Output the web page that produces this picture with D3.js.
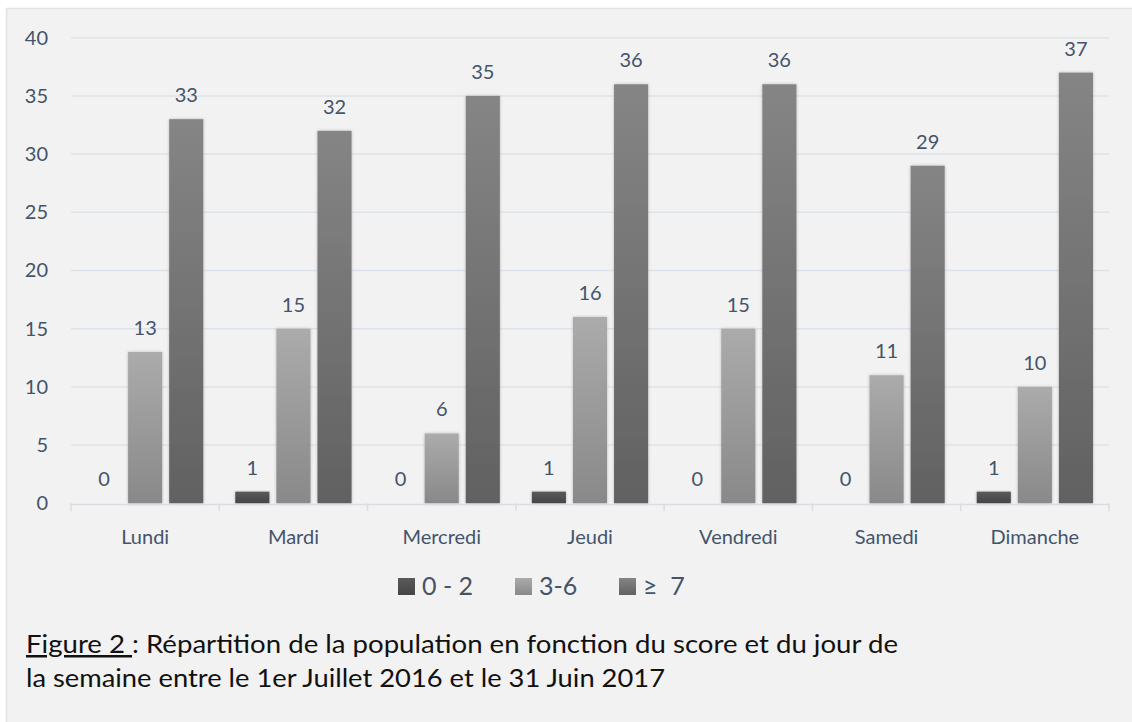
<!DOCTYPE html>
<html>
<head>
<meta charset="utf-8">
<script src="https://cdn.jsdelivr.net/npm/d3@7"></script>
<style>
  body { margin: 0; background: #ffffff; }
  svg text { font-family: Lato, "Open Sans", sans-serif; }
</style>
</head>
<body>
<svg id="chart" width="1132" height="722"></svg>
<script>
// Data
const days = ["Lundi", "Mardi", "Mercredi", "Jeudi", "Vendredi", "Samedi", "Dimanche"];
const seriesNames = ["0 - 2", "3-6", "\u2265  7"];
const score02 = [0, 1, 0, 1, 0, 0, 1];
const score36 = [13, 15, 6, 16, 15, 11, 10];
const score7 = [33, 32, 35, 36, 36, 29, 37];
const yTicks = [0, 5, 10, 15, 20, 25, 30, 35, 40];

const allSeries = [score02, score36, score7];
const gradStops = [["#5a5a5a", "#454545"], ["#ababab", "#898989"], ["#858585", "#616161"]];
const textColor = "#44546a";

const svg = d3.select("#chart");

// panel background
svg.append("rect")
    .attr("x", 6.5).attr("y", 8.5)
    .attr("width", 1130).attr("height", 720)
    .attr("fill", "#f2f2f2")
    .attr("stroke", "#dfe3e8")
    .attr("stroke-width", 1.5);

const defs = svg.append("defs");
gradStops.forEach((s, i) => {
    const g = defs.append("linearGradient")
        .attr("id", "grad" + i)
        .attr("x1", 0).attr("y1", 0).attr("x2", 0).attr("y2", 1);
    g.append("stop").attr("offset", "0%").attr("stop-color", s[0]);
    g.append("stop").attr("offset", "100%").attr("stop-color", s[1]);
});
const filt = defs.append("filter").attr("id", "shadow")
    .attr("x", "-30%").attr("y", "-10%").attr("width", "160%").attr("height", "130%");
filt.append("feDropShadow")
    .attr("dx", 0).attr("dy", 0).attr("stdDeviation", 1.5)
    .attr("flood-color", "#000").attr("flood-opacity", 0.25);

const plotLeft = 71, plotRight = 1109, plotTop = 37.7, plotBottom = 503.3;

const x = d3.scaleBand()
    .domain(days)
    .range([plotLeft, plotRight])
    .paddingInner(0)
    .paddingOuter(0);

const x1 = d3.scaleBand()
    .domain(d3.range(3))
    .range([16, x.bandwidth() - 16])
    .paddingInner(0.17);

const y = d3.scaleLinear()
    .domain([0, 40])
    .range([plotBottom, plotTop]);

// gridlines
svg.append("g")
    .selectAll("line")
    .data(yTicks.filter(d => d > 0))
    .enter()
    .append("line")
    .attr("x1", plotLeft).attr("x2", plotRight)
    .attr("y1", d => y(d)).attr("y2", d => y(d))
    .attr("stroke", "#dde3ea")
    .attr("stroke-width", 1.5);

// y axis labels
const yAxis = svg.append("g")
    .attr("transform", `translate(${plotLeft},0)`)
    .call(d3.axisLeft(y).tickValues(yTicks).tickSize(0).tickPadding(23));
yAxis.select(".domain").remove();
yAxis.selectAll("text")
    .attr("fill", textColor)
    .style("font-size", "20px");

// bars
allSeries.forEach((vals, si) => {
    svg.append("g")
        .selectAll("rect")
        .data(vals)
        .enter()
        .append("rect")
        .attr("x", (d, i) => x(days[i]) + x1(si))
        .attr("y", d => y(d))
        .attr("width", x1.bandwidth())
        .attr("height", d => y(0) - y(d))
        .attr("fill", `url(#grad${si})`)
        .attr("filter", "url(#shadow)");

    svg.append("g")
        .selectAll("text")
        .data(vals)
        .enter()
        .append("text")
        .attr("x", (d, i) => x(days[i]) + x1(si) + x1.bandwidth() / 2)
        .attr("y", d => y(d) - 17)
        .attr("text-anchor", "middle")
        .attr("fill", textColor)
        .style("font-size", "20px")
        .text(d => d);
});

// x axis
const xAxis = svg.append("g")
    .attr("transform", `translate(0,${plotBottom + 0.7})`)
    .call(d3.axisBottom(x).tickSize(0).tickPadding(26));
xAxis.select(".domain")
    .attr("stroke", "#d9dde3")
    .attr("stroke-width", 1.5);
xAxis.selectAll("text")
    .attr("fill", textColor)
    .style("font-size", "20px");
svg.append("g")
    .selectAll("line")
    .data(days.concat(["end"]))
    .enter()
    .append("line")
    .attr("x1", (d, i) => i < days.length ? x(d) : plotRight)
    .attr("x2", (d, i) => i < days.length ? x(d) : plotRight)
    .attr("y1", plotBottom).attr("y2", plotBottom + 8)
    .attr("stroke", "#d9dde3")
    .attr("stroke-width", 1.5);

// legend
const legendX = [398, 515, 619];
const legend = svg.append("g");
seriesNames.forEach((name, i) => {
    legend.append("rect")
        .attr("x", legendX[i]).attr("y", 578)
        .attr("width", 17).attr("height", 17)
        .attr("fill", `url(#grad${i})`);
    legend.append("text")
        .attr("x", legendX[i] + 24).attr("y", 595)
        .attr("fill", textColor)
        .style("font-size", "25px")
        .style("white-space", "pre")
        .text(name);
});

// caption
const cap = svg.append("text")
    .attr("x", 26).attr("y", 653)
    .attr("fill", "#111111")
    .style("font-size", "25px")
    .attr("textLength", 872)
    .attr("lengthAdjust", "spacingAndGlyphs");
cap.append("tspan").style("text-decoration", "underline").text("Figure 2 ");
cap.append("tspan").text(": R\u00e9partition de la population en fonction du score et du jour de");

svg.append("text")
    .attr("x", 26).attr("y", 687)
    .attr("fill", "#111111")
    .style("font-size", "25px")
    .attr("textLength", 639)
    .attr("lengthAdjust", "spacingAndGlyphs")
    .text("la semaine entre le 1er Juillet 2016 et le 31 Juin 2017");
</script>
</body>
</html>
